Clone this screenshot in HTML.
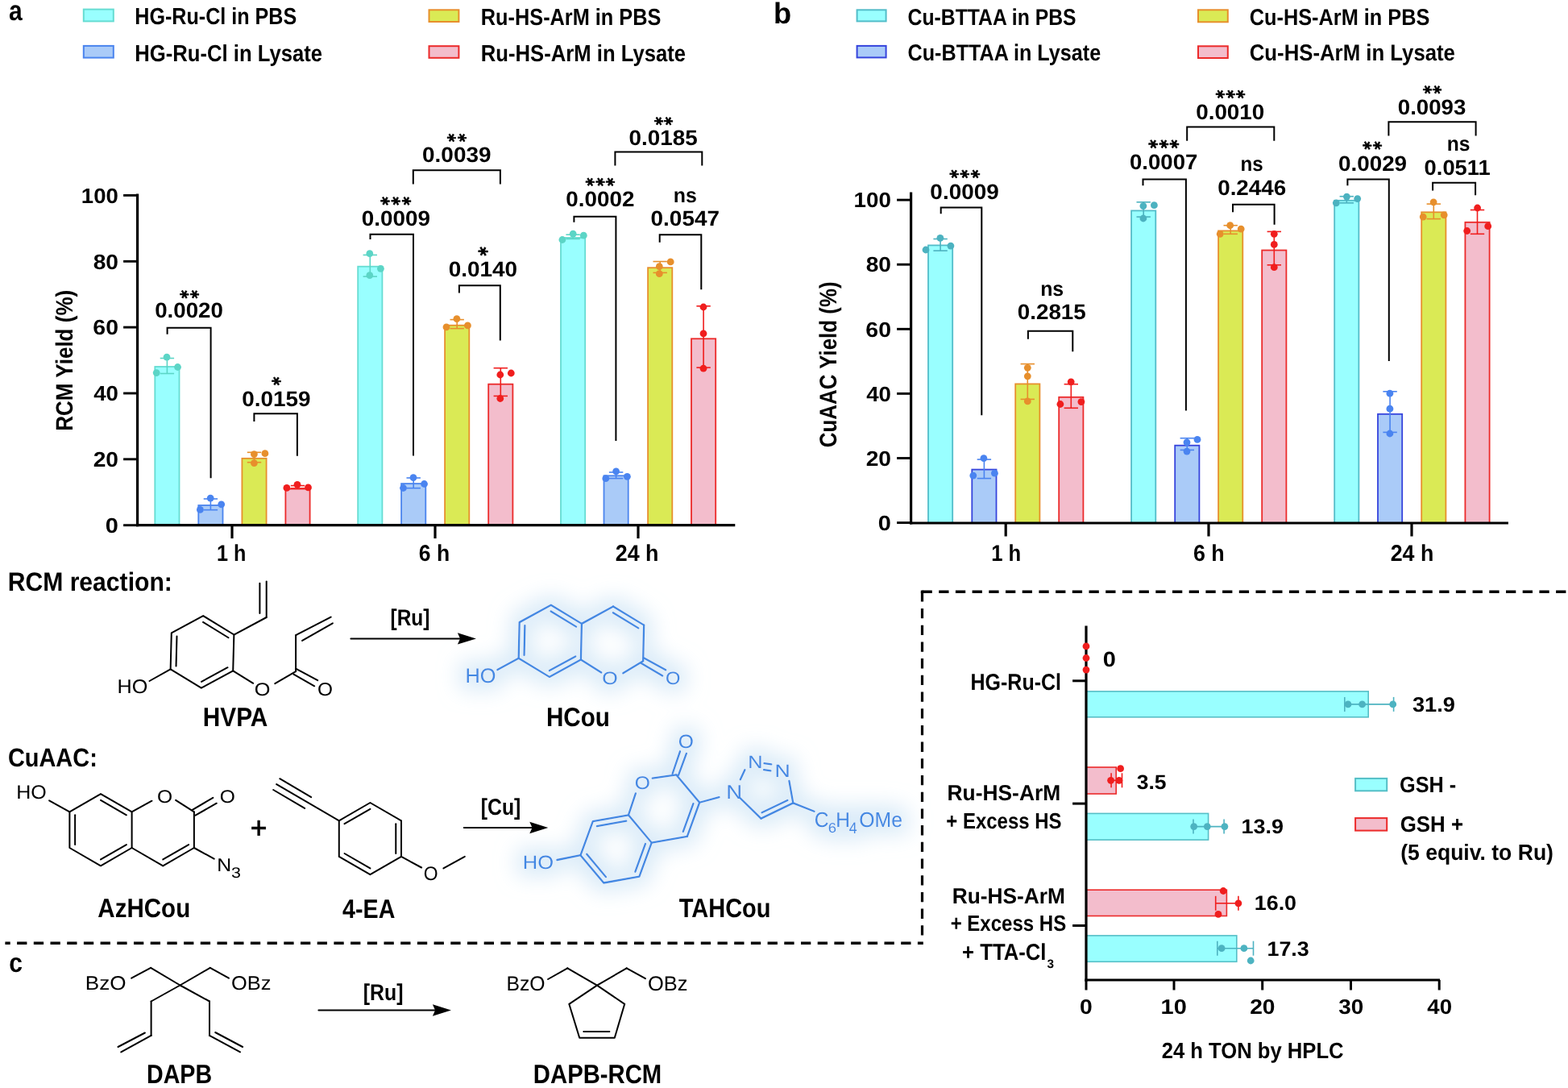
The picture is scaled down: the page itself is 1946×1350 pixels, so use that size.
<!DOCTYPE html><html><head><meta charset="utf-8"><title>Figure</title><style>html,body{margin:0;padding:0;background:#fff;}svg{display:block;}</style></head><body><svg width="1946" height="1350" viewBox="0 0 1946 1350" style="text-rendering:geometricPrecision">
<defs><filter id="glow2" x="-25%" y="-40%" width="150%" height="180%"><feMorphology in="SourceAlpha" operator="dilate" radius="9" result="d"/><feGaussianBlur in="d" stdDeviation="13" result="b"/><feFlood flood-color="#CBE3F5" flood-opacity="0.72"/><feComposite operator="in" in2="b" result="g"/><feMerge><feMergeNode in="g"/><feMergeNode in="SourceGraphic"/></feMerge></filter></defs>
<rect width="1946" height="1350" fill="#fff"/>
<g filter="url(#glow2)"><path d="M683.81 750.71 L721.92 773.88 L720.91 818.47 L681.79 839.89 L643.68 816.72 L644.69 772.13 Z" fill="none" stroke="#4388E3" stroke-width="2.30" stroke-linejoin="round" stroke-linecap="round"/><line x1="683.63" y1="758.51" x2="715.07" y2="777.63" stroke="#4388E3" stroke-width="2.30" stroke-linecap="round"/><line x1="650.53" y1="812.97" x2="651.36" y2="776.18" stroke="#4388E3" stroke-width="2.30" stroke-linecap="round"/><line x1="681.97" y1="832.09" x2="714.24" y2="814.42" stroke="#4388E3" stroke-width="2.30" stroke-linecap="round"/><line x1="721.92" y1="773.88" x2="761.04" y2="752.46" stroke="#4388E3" stroke-width="2.30" stroke-linecap="round"/><line x1="761.04" y1="752.46" x2="799.15" y2="775.63" stroke="#4388E3" stroke-width="2.30" stroke-linecap="round"/><line x1="799.15" y1="775.63" x2="798.14" y2="820.22" stroke="#4388E3" stroke-width="2.30" stroke-linecap="round"/><line x1="760.86" y1="760.27" x2="792.30" y2="779.38" stroke="#4388E3" stroke-width="2.30" stroke-linecap="round"/><line x1="773.30" y1="835.30" x2="798.14" y2="820.22" stroke="#4388E3" stroke-width="2.30" stroke-linecap="round"/><line x1="720.91" y1="818.47" x2="746.30" y2="834.50" stroke="#4388E3" stroke-width="2.30" stroke-linecap="round"/><line x1="798.80" y1="816.20" x2="826.20" y2="831.30" stroke="#4388E3" stroke-width="2.30" stroke-linecap="round"/><line x1="795.90" y1="823.00" x2="822.20" y2="838.50" stroke="#4388E3" stroke-width="2.30" stroke-linecap="round"/><line x1="643.68" y1="816.72" x2="617.40" y2="831.10" stroke="#4388E3" stroke-width="2.30" stroke-linecap="round"/><path d="M779.92 1011.30 L808.72 1045.62 L793.40 1087.72 L749.28 1095.50 L720.48 1061.18 L735.80 1019.08 Z" fill="none" stroke="#4388E3" stroke-width="2.30" stroke-linejoin="round" stroke-linecap="round"/><line x1="740.84" y1="1025.09" x2="777.24" y2="1018.67" stroke="#4388E3" stroke-width="2.30" stroke-linecap="round"/><line x1="751.96" y1="1088.13" x2="728.20" y2="1059.82" stroke="#4388E3" stroke-width="2.30" stroke-linecap="round"/><line x1="801.00" y1="1046.98" x2="788.36" y2="1081.71" stroke="#4388E3" stroke-width="2.30" stroke-linecap="round"/><line x1="779.92" y1="1011.30" x2="788.90" y2="984.40" stroke="#4388E3" stroke-width="2.30" stroke-linecap="round"/><line x1="809.70" y1="965.60" x2="839.36" y2="961.42" stroke="#4388E3" stroke-width="2.30" stroke-linecap="round"/><line x1="839.36" y1="961.42" x2="868.16" y2="995.74" stroke="#4388E3" stroke-width="2.30" stroke-linecap="round"/><line x1="868.16" y1="995.74" x2="852.84" y2="1037.84" stroke="#4388E3" stroke-width="2.30" stroke-linecap="round"/><line x1="852.84" y1="1037.84" x2="808.72" y2="1045.62" stroke="#4388E3" stroke-width="2.30" stroke-linecap="round"/><line x1="860.44" y1="997.10" x2="847.80" y2="1031.84" stroke="#4388E3" stroke-width="2.30" stroke-linecap="round"/><line x1="834.60" y1="960.00" x2="844.00" y2="932.30" stroke="#4388E3" stroke-width="2.30" stroke-linecap="round"/><line x1="842.00" y1="961.80" x2="851.90" y2="934.90" stroke="#4388E3" stroke-width="2.30" stroke-linecap="round"/><line x1="868.16" y1="995.74" x2="892.50" y2="989.10" stroke="#4388E3" stroke-width="2.30" stroke-linecap="round"/><line x1="918.80" y1="967.30" x2="924.40" y2="955.20" stroke="#4388E3" stroke-width="2.30" stroke-linecap="round"/><line x1="948.50" y1="947.20" x2="957.30" y2="948.30" stroke="#4388E3" stroke-width="2.30" stroke-linecap="round"/><line x1="948.10" y1="955.10" x2="956.40" y2="956.40" stroke="#4388E3" stroke-width="2.30" stroke-linecap="round"/><line x1="979.40" y1="969.00" x2="984.30" y2="996.40" stroke="#4388E3" stroke-width="2.30" stroke-linecap="round"/><line x1="984.30" y1="996.40" x2="944.50" y2="1015.60" stroke="#4388E3" stroke-width="2.30" stroke-linecap="round"/><line x1="977.38" y1="992.96" x2="945.54" y2="1008.32" stroke="#4388E3" stroke-width="2.30" stroke-linecap="round"/><line x1="944.50" y1="1015.60" x2="918.60" y2="990.25" stroke="#4388E3" stroke-width="2.30" stroke-linecap="round"/><line x1="984.30" y1="996.40" x2="1010.50" y2="1006.80" stroke="#4388E3" stroke-width="2.30" stroke-linecap="round"/><line x1="720.48" y1="1061.18" x2="691.40" y2="1067.00" stroke="#4388E3" stroke-width="2.30" stroke-linecap="round"/><text x="577.57" y="846.95" font-family='"Liberation Sans", sans-serif' font-weight="normal" font-size="25.35" fill="#4388E3" textLength="37.99" lengthAdjust="spacingAndGlyphs">HO</text><text x="747.35" y="848.58" font-family='"Liberation Sans", sans-serif' font-weight="normal" font-size="22.25" fill="#4388E3" textLength="19.45" lengthAdjust="spacingAndGlyphs">O</text><text x="825.92" y="848.78" font-family='"Liberation Sans", sans-serif' font-weight="normal" font-size="22.25" fill="#4388E3" textLength="18.42" lengthAdjust="spacingAndGlyphs">O</text><text x="648.76" y="1078.36" font-family='"Liberation Sans", sans-serif' font-weight="normal" font-size="23.52" fill="#4388E3" textLength="38.21" lengthAdjust="spacingAndGlyphs">HO</text><text x="787.77" y="978.87" font-family='"Liberation Sans", sans-serif' font-weight="normal" font-size="22.68" fill="#4388E3" textLength="19.11" lengthAdjust="spacingAndGlyphs">O</text><text x="841.77" y="928.06" font-family='"Liberation Sans", sans-serif' font-weight="normal" font-size="23.52" fill="#4388E3" textLength="19.11" lengthAdjust="spacingAndGlyphs">O</text><text x="901.20" y="991.20" font-family='"Liberation Sans", sans-serif' font-weight="normal" font-size="24.20" fill="#4388E3" textLength="19.86" lengthAdjust="spacingAndGlyphs">N</text><text x="928.27" y="952.70" font-family='"Liberation Sans", sans-serif' font-weight="normal" font-size="22.32" fill="#4388E3" textLength="18.31" lengthAdjust="spacingAndGlyphs">N</text><text x="961.57" y="963.70" font-family='"Liberation Sans", sans-serif' font-weight="normal" font-size="22.32" fill="#4388E3" textLength="19.22" lengthAdjust="spacingAndGlyphs">N</text><text x="1010.67" y="1025.94" font-family='"Liberation Sans", sans-serif' font-weight="normal" font-size="26.20" fill="#4388E3" textLength="17.77" lengthAdjust="spacingAndGlyphs">C</text><text x="1027.68" y="1033.43" font-family='"Liberation Sans", sans-serif' font-weight="normal" font-size="17.18" fill="#4388E3" textLength="10.28" lengthAdjust="spacingAndGlyphs">6</text><text x="1037.14" y="1025.90" font-family='"Liberation Sans", sans-serif' font-weight="normal" font-size="25.94" fill="#4388E3" textLength="17.67" lengthAdjust="spacingAndGlyphs">H</text><text x="1053.84" y="1033.60" font-family='"Liberation Sans", sans-serif' font-weight="normal" font-size="19.71" fill="#4388E3" textLength="9.93" lengthAdjust="spacingAndGlyphs">4</text><text x="1066.26" y="1025.90" font-family='"Liberation Sans", sans-serif' font-weight="normal" font-size="26.02" fill="#4388E3" textLength="53.70" lengthAdjust="spacingAndGlyphs">OMe</text></g>
<rect x="192.30" y="455.00" width="30.20" height="196.60" fill="#99FFFF" stroke="#66DCD2" stroke-width="1.80"/>
<rect x="246.30" y="627.00" width="30.20" height="24.60" fill="#AACBF8" stroke="#4A84EE" stroke-width="1.80"/>
<rect x="300.40" y="568.80" width="30.20" height="82.80" fill="#DAEA55" stroke="#E78F2C" stroke-width="1.80"/>
<rect x="354.40" y="606.60" width="30.20" height="45.00" fill="#F3BDCC" stroke="#EC2A2A" stroke-width="1.80"/>
<rect x="444.20" y="330.70" width="30.20" height="320.90" fill="#99FFFF" stroke="#66DCD2" stroke-width="1.80"/>
<rect x="498.10" y="600.10" width="30.20" height="51.50" fill="#AACBF8" stroke="#4A84EE" stroke-width="1.80"/>
<rect x="552.10" y="403.70" width="30.20" height="247.90" fill="#DAEA55" stroke="#E78F2C" stroke-width="1.80"/>
<rect x="606.20" y="476.70" width="30.20" height="174.90" fill="#F3BDCC" stroke="#EC2A2A" stroke-width="1.80"/>
<rect x="696.00" y="295.00" width="30.20" height="356.60" fill="#99FFFF" stroke="#66DCD2" stroke-width="1.80"/>
<rect x="749.50" y="590.30" width="30.20" height="61.30" fill="#AACBF8" stroke="#4A84EE" stroke-width="1.80"/>
<rect x="804.10" y="332.20" width="30.20" height="319.40" fill="#DAEA55" stroke="#E78F2C" stroke-width="1.80"/>
<rect x="858.00" y="420.30" width="30.20" height="231.30" fill="#F3BDCC" stroke="#EC2A2A" stroke-width="1.80"/>
<line x1="207.40" y1="444.50" x2="207.40" y2="463.50" stroke="#5CD5C6" stroke-width="1.60" stroke-linecap="butt"/>
<line x1="198.70" y1="444.50" x2="216.10" y2="444.50" stroke="#5CD5C6" stroke-width="1.60" stroke-linecap="butt"/>
<line x1="198.70" y1="463.50" x2="216.10" y2="463.50" stroke="#5CD5C6" stroke-width="1.60" stroke-linecap="butt"/>
<circle cx="207.00" cy="443.10" r="4.40" fill="#5CD5C6"/>
<circle cx="220.50" cy="455.50" r="4.40" fill="#5CD5C6"/>
<circle cx="194.20" cy="462.60" r="4.40" fill="#5CD5C6"/>
<line x1="261.40" y1="619.00" x2="261.40" y2="632.70" stroke="#4A84F0" stroke-width="1.60" stroke-linecap="butt"/>
<line x1="252.70" y1="619.00" x2="270.10" y2="619.00" stroke="#4A84F0" stroke-width="1.60" stroke-linecap="butt"/>
<line x1="252.70" y1="632.70" x2="270.10" y2="632.70" stroke="#4A84F0" stroke-width="1.60" stroke-linecap="butt"/>
<circle cx="261.20" cy="618.20" r="4.40" fill="#4A84F0"/>
<circle cx="274.70" cy="625.80" r="4.40" fill="#4A84F0"/>
<circle cx="248.40" cy="632.40" r="4.40" fill="#4A84F0"/>
<line x1="315.50" y1="561.30" x2="315.50" y2="573.70" stroke="#E78F2C" stroke-width="1.60" stroke-linecap="butt"/>
<line x1="306.80" y1="561.30" x2="324.20" y2="561.30" stroke="#E78F2C" stroke-width="1.60" stroke-linecap="butt"/>
<line x1="306.80" y1="573.70" x2="324.20" y2="573.70" stroke="#E78F2C" stroke-width="1.60" stroke-linecap="butt"/>
<circle cx="328.90" cy="562.70" r="4.40" fill="#E78F2C"/>
<circle cx="315.40" cy="563.60" r="4.40" fill="#E78F2C"/>
<circle cx="315.40" cy="574.60" r="4.40" fill="#E78F2C"/>
<line x1="369.50" y1="602.60" x2="369.50" y2="606.00" stroke="#F01E1E" stroke-width="1.60" stroke-linecap="butt"/>
<line x1="360.80" y1="602.60" x2="378.20" y2="602.60" stroke="#F01E1E" stroke-width="1.60" stroke-linecap="butt"/>
<line x1="360.80" y1="606.00" x2="378.20" y2="606.00" stroke="#F01E1E" stroke-width="1.60" stroke-linecap="butt"/>
<circle cx="355.90" cy="605.40" r="4.40" fill="#F01E1E"/>
<circle cx="369.00" cy="601.30" r="4.40" fill="#F01E1E"/>
<circle cx="382.50" cy="604.90" r="4.40" fill="#F01E1E"/>
<line x1="459.30" y1="316.40" x2="459.30" y2="343.10" stroke="#5CD5C6" stroke-width="1.60" stroke-linecap="butt"/>
<line x1="450.60" y1="316.40" x2="468.00" y2="316.40" stroke="#5CD5C6" stroke-width="1.60" stroke-linecap="butt"/>
<line x1="450.60" y1="343.10" x2="468.00" y2="343.10" stroke="#5CD5C6" stroke-width="1.60" stroke-linecap="butt"/>
<circle cx="458.80" cy="314.70" r="4.40" fill="#5CD5C6"/>
<circle cx="472.40" cy="333.30" r="4.40" fill="#5CD5C6"/>
<circle cx="458.80" cy="341.70" r="4.40" fill="#5CD5C6"/>
<line x1="513.20" y1="593.00" x2="513.20" y2="605.70" stroke="#4A84F0" stroke-width="1.60" stroke-linecap="butt"/>
<line x1="504.50" y1="593.00" x2="521.90" y2="593.00" stroke="#4A84F0" stroke-width="1.60" stroke-linecap="butt"/>
<line x1="504.50" y1="605.70" x2="521.90" y2="605.70" stroke="#4A84F0" stroke-width="1.60" stroke-linecap="butt"/>
<circle cx="513.00" cy="592.60" r="4.40" fill="#4A84F0"/>
<circle cx="526.50" cy="600.50" r="4.40" fill="#4A84F0"/>
<circle cx="500.50" cy="605.50" r="4.40" fill="#4A84F0"/>
<line x1="567.20" y1="396.60" x2="567.20" y2="407.60" stroke="#E78F2C" stroke-width="1.60" stroke-linecap="butt"/>
<line x1="558.50" y1="396.60" x2="575.90" y2="396.60" stroke="#E78F2C" stroke-width="1.60" stroke-linecap="butt"/>
<line x1="558.50" y1="407.60" x2="575.90" y2="407.60" stroke="#E78F2C" stroke-width="1.60" stroke-linecap="butt"/>
<circle cx="566.90" cy="395.60" r="4.40" fill="#E78F2C"/>
<circle cx="554.00" cy="405.90" r="4.40" fill="#E78F2C"/>
<circle cx="580.40" cy="403.90" r="4.40" fill="#E78F2C"/>
<line x1="621.30" y1="456.70" x2="621.30" y2="491.40" stroke="#F01E1E" stroke-width="1.60" stroke-linecap="butt"/>
<line x1="612.60" y1="456.70" x2="630.00" y2="456.70" stroke="#F01E1E" stroke-width="1.60" stroke-linecap="butt"/>
<line x1="612.60" y1="491.40" x2="630.00" y2="491.40" stroke="#F01E1E" stroke-width="1.60" stroke-linecap="butt"/>
<circle cx="620.80" cy="465.00" r="4.40" fill="#F01E1E"/>
<circle cx="634.30" cy="463.00" r="4.40" fill="#F01E1E"/>
<circle cx="620.80" cy="494.50" r="4.40" fill="#F01E1E"/>
<line x1="711.10" y1="291.20" x2="711.10" y2="296.40" stroke="#5CD5C6" stroke-width="1.60" stroke-linecap="butt"/>
<line x1="702.40" y1="291.20" x2="719.80" y2="291.20" stroke="#5CD5C6" stroke-width="1.60" stroke-linecap="butt"/>
<line x1="702.40" y1="296.40" x2="719.80" y2="296.40" stroke="#5CD5C6" stroke-width="1.60" stroke-linecap="butt"/>
<circle cx="697.90" cy="297.50" r="4.40" fill="#5CD5C6"/>
<circle cx="711.20" cy="290.20" r="4.40" fill="#5CD5C6"/>
<circle cx="724.30" cy="292.20" r="4.40" fill="#5CD5C6"/>
<line x1="764.60" y1="586.00" x2="764.60" y2="593.60" stroke="#4A84F0" stroke-width="1.60" stroke-linecap="butt"/>
<line x1="755.90" y1="586.00" x2="773.30" y2="586.00" stroke="#4A84F0" stroke-width="1.60" stroke-linecap="butt"/>
<line x1="755.90" y1="593.60" x2="773.30" y2="593.60" stroke="#4A84F0" stroke-width="1.60" stroke-linecap="butt"/>
<circle cx="764.60" cy="584.80" r="4.40" fill="#4A84F0"/>
<circle cx="751.80" cy="593.70" r="4.40" fill="#4A84F0"/>
<circle cx="778.40" cy="591.30" r="4.40" fill="#4A84F0"/>
<line x1="819.20" y1="324.50" x2="819.20" y2="338.40" stroke="#E78F2C" stroke-width="1.60" stroke-linecap="butt"/>
<line x1="810.50" y1="324.50" x2="827.90" y2="324.50" stroke="#E78F2C" stroke-width="1.60" stroke-linecap="butt"/>
<line x1="810.50" y1="338.40" x2="827.90" y2="338.40" stroke="#E78F2C" stroke-width="1.60" stroke-linecap="butt"/>
<circle cx="832.20" cy="324.90" r="4.40" fill="#E78F2C"/>
<circle cx="818.30" cy="330.70" r="4.40" fill="#E78F2C"/>
<circle cx="818.30" cy="339.70" r="4.40" fill="#E78F2C"/>
<line x1="873.10" y1="379.80" x2="873.10" y2="456.10" stroke="#F01E1E" stroke-width="1.60" stroke-linecap="butt"/>
<line x1="864.40" y1="379.80" x2="881.80" y2="379.80" stroke="#F01E1E" stroke-width="1.60" stroke-linecap="butt"/>
<line x1="864.40" y1="456.10" x2="881.80" y2="456.10" stroke="#F01E1E" stroke-width="1.60" stroke-linecap="butt"/>
<circle cx="873.00" cy="381.00" r="4.40" fill="#F01E1E"/>
<circle cx="873.00" cy="413.80" r="4.40" fill="#F01E1E"/>
<circle cx="873.00" cy="457.20" r="4.40" fill="#F01E1E"/>
<path d="M207.60 414.80 L207.60 406.70 L261.60 406.70 L261.60 593.30" fill="none" stroke="#000" stroke-width="2.00" stroke-linejoin="miter" stroke-linecap="butt"/>
<path d="M315.40 523.00 L315.40 513.30 L368.90 513.30 L368.90 565.70" fill="none" stroke="#000" stroke-width="2.00" stroke-linejoin="miter" stroke-linecap="butt"/>
<path d="M459.50 296.90 L459.50 290.70 L513.00 290.70 L513.00 565.60" fill="none" stroke="#000" stroke-width="2.00" stroke-linejoin="miter" stroke-linecap="butt"/>
<path d="M512.80 228.40 L512.80 211.20 L620.90 211.20 L620.90 228.40" fill="none" stroke="#000" stroke-width="2.00" stroke-linejoin="miter" stroke-linecap="butt"/>
<path d="M569.90 363.60 L569.90 354.30 L620.80 354.30 L620.80 422.50" fill="none" stroke="#000" stroke-width="2.00" stroke-linejoin="miter" stroke-linecap="butt"/>
<path d="M712.40 275.80 L712.40 268.70 L764.40 268.70 L764.40 547.00" fill="none" stroke="#000" stroke-width="2.00" stroke-linejoin="miter" stroke-linecap="butt"/>
<path d="M763.40 205.50 L763.40 188.50 L871.30 188.50 L871.30 205.50" fill="none" stroke="#000" stroke-width="2.00" stroke-linejoin="miter" stroke-linecap="butt"/>
<path d="M818.70 300.80 L818.70 291.20 L870.30 291.20 L870.30 359.20" fill="none" stroke="#000" stroke-width="2.00" stroke-linejoin="miter" stroke-linecap="butt"/>
<line x1="170.60" y1="240.60" x2="170.60" y2="653.20" stroke="#000" stroke-width="3.20" stroke-linecap="butt"/>
<line x1="169.00" y1="651.60" x2="912.30" y2="651.60" stroke="#000" stroke-width="3.20" stroke-linecap="butt"/>
<line x1="153.10" y1="242.40" x2="170.60" y2="242.40" stroke="#000" stroke-width="2.90" stroke-linecap="butt"/>
<line x1="153.10" y1="324.30" x2="170.60" y2="324.30" stroke="#000" stroke-width="2.90" stroke-linecap="butt"/>
<line x1="153.10" y1="406.10" x2="170.60" y2="406.10" stroke="#000" stroke-width="2.90" stroke-linecap="butt"/>
<line x1="153.10" y1="488.00" x2="170.60" y2="488.00" stroke="#000" stroke-width="2.90" stroke-linecap="butt"/>
<line x1="153.10" y1="569.80" x2="170.60" y2="569.80" stroke="#000" stroke-width="2.90" stroke-linecap="butt"/>
<line x1="153.10" y1="651.70" x2="170.60" y2="651.70" stroke="#000" stroke-width="2.90" stroke-linecap="butt"/>
<line x1="288.00" y1="651.60" x2="288.00" y2="668.10" stroke="#000" stroke-width="3.20" stroke-linecap="butt"/>
<line x1="540.00" y1="651.60" x2="540.00" y2="668.10" stroke="#000" stroke-width="3.20" stroke-linecap="butt"/>
<line x1="792.00" y1="651.60" x2="792.00" y2="668.10" stroke="#000" stroke-width="3.20" stroke-linecap="butt"/>
<rect x="1152.00" y="304.40" width="30.20" height="344.60" fill="#99FFFF" stroke="#53BDC9" stroke-width="1.80"/>
<rect x="1206.30" y="582.60" width="30.20" height="66.40" fill="#AACBF8" stroke="#3644DC" stroke-width="1.80"/>
<rect x="1260.20" y="476.40" width="30.20" height="172.60" fill="#DAEA55" stroke="#E78F2C" stroke-width="1.80"/>
<rect x="1314.20" y="492.80" width="30.20" height="156.20" fill="#F3BDCC" stroke="#EC2A2A" stroke-width="1.80"/>
<rect x="1404.10" y="261.40" width="30.20" height="387.60" fill="#99FFFF" stroke="#53BDC9" stroke-width="1.80"/>
<rect x="1458.20" y="552.70" width="30.20" height="96.30" fill="#AACBF8" stroke="#3644DC" stroke-width="1.80"/>
<rect x="1512.10" y="286.40" width="30.20" height="362.60" fill="#DAEA55" stroke="#E78F2C" stroke-width="1.80"/>
<rect x="1566.20" y="310.50" width="30.20" height="338.50" fill="#F3BDCC" stroke="#EC2A2A" stroke-width="1.80"/>
<rect x="1656.20" y="248.80" width="30.20" height="400.20" fill="#99FFFF" stroke="#53BDC9" stroke-width="1.80"/>
<rect x="1710.00" y="513.80" width="30.20" height="135.20" fill="#AACBF8" stroke="#3644DC" stroke-width="1.80"/>
<rect x="1764.20" y="263.30" width="30.20" height="385.70" fill="#DAEA55" stroke="#E78F2C" stroke-width="1.80"/>
<rect x="1818.40" y="275.80" width="30.20" height="373.20" fill="#F3BDCC" stroke="#EC2A2A" stroke-width="1.80"/>
<line x1="1167.10" y1="296.50" x2="1167.10" y2="311.10" stroke="#4CB2C0" stroke-width="1.60" stroke-linecap="butt"/>
<line x1="1158.40" y1="296.50" x2="1175.80" y2="296.50" stroke="#4CB2C0" stroke-width="1.60" stroke-linecap="butt"/>
<line x1="1158.40" y1="311.10" x2="1175.80" y2="311.10" stroke="#4CB2C0" stroke-width="1.60" stroke-linecap="butt"/>
<circle cx="1166.90" cy="295.30" r="4.40" fill="#4CB2C0"/>
<circle cx="1179.90" cy="305.10" r="4.40" fill="#4CB2C0"/>
<circle cx="1149.00" cy="310.00" r="4.40" fill="#4CB2C0"/>
<line x1="1221.40" y1="570.10" x2="1221.40" y2="593.60" stroke="#4A84F0" stroke-width="1.60" stroke-linecap="butt"/>
<line x1="1212.70" y1="570.10" x2="1230.10" y2="570.10" stroke="#4A84F0" stroke-width="1.60" stroke-linecap="butt"/>
<line x1="1212.70" y1="593.60" x2="1230.10" y2="593.60" stroke="#4A84F0" stroke-width="1.60" stroke-linecap="butt"/>
<circle cx="1220.90" cy="568.60" r="4.40" fill="#4A84F0"/>
<circle cx="1234.40" cy="587.20" r="4.40" fill="#4A84F0"/>
<circle cx="1207.80" cy="590.10" r="4.40" fill="#4A84F0"/>
<line x1="1275.30" y1="451.60" x2="1275.30" y2="495.40" stroke="#E78F2C" stroke-width="1.60" stroke-linecap="butt"/>
<line x1="1266.60" y1="451.60" x2="1284.00" y2="451.60" stroke="#E78F2C" stroke-width="1.60" stroke-linecap="butt"/>
<line x1="1266.60" y1="495.40" x2="1284.00" y2="495.40" stroke="#E78F2C" stroke-width="1.60" stroke-linecap="butt"/>
<circle cx="1275.30" cy="456.30" r="4.40" fill="#E78F2C"/>
<circle cx="1275.30" cy="466.80" r="4.40" fill="#E78F2C"/>
<circle cx="1275.30" cy="497.90" r="4.40" fill="#E78F2C"/>
<line x1="1329.30" y1="476.70" x2="1329.30" y2="506.30" stroke="#F01E1E" stroke-width="1.60" stroke-linecap="butt"/>
<line x1="1320.60" y1="476.70" x2="1338.00" y2="476.70" stroke="#F01E1E" stroke-width="1.60" stroke-linecap="butt"/>
<line x1="1320.60" y1="506.30" x2="1338.00" y2="506.30" stroke="#F01E1E" stroke-width="1.60" stroke-linecap="butt"/>
<circle cx="1329.20" cy="473.80" r="4.40" fill="#F01E1E"/>
<circle cx="1315.90" cy="501.50" r="4.40" fill="#F01E1E"/>
<circle cx="1341.90" cy="498.60" r="4.40" fill="#F01E1E"/>
<line x1="1419.20" y1="250.80" x2="1419.20" y2="269.10" stroke="#4CB2C0" stroke-width="1.60" stroke-linecap="butt"/>
<line x1="1410.50" y1="250.80" x2="1427.90" y2="250.80" stroke="#4CB2C0" stroke-width="1.60" stroke-linecap="butt"/>
<line x1="1410.50" y1="269.10" x2="1427.90" y2="269.10" stroke="#4CB2C0" stroke-width="1.60" stroke-linecap="butt"/>
<circle cx="1418.90" cy="255.60" r="4.40" fill="#4CB2C0"/>
<circle cx="1432.40" cy="254.70" r="4.40" fill="#4CB2C0"/>
<circle cx="1418.90" cy="271.00" r="4.40" fill="#4CB2C0"/>
<line x1="1473.30" y1="543.70" x2="1473.30" y2="558.40" stroke="#4A84F0" stroke-width="1.60" stroke-linecap="butt"/>
<line x1="1464.60" y1="543.70" x2="1482.00" y2="543.70" stroke="#4A84F0" stroke-width="1.60" stroke-linecap="butt"/>
<line x1="1464.60" y1="558.40" x2="1482.00" y2="558.40" stroke="#4A84F0" stroke-width="1.60" stroke-linecap="butt"/>
<circle cx="1486.00" cy="545.40" r="4.40" fill="#4A84F0"/>
<circle cx="1473.00" cy="548.90" r="4.40" fill="#4A84F0"/>
<circle cx="1473.00" cy="560.10" r="4.40" fill="#4A84F0"/>
<line x1="1527.20" y1="279.70" x2="1527.20" y2="290.30" stroke="#E78F2C" stroke-width="1.60" stroke-linecap="butt"/>
<line x1="1518.50" y1="279.70" x2="1535.90" y2="279.70" stroke="#E78F2C" stroke-width="1.60" stroke-linecap="butt"/>
<line x1="1518.50" y1="290.30" x2="1535.90" y2="290.30" stroke="#E78F2C" stroke-width="1.60" stroke-linecap="butt"/>
<circle cx="1526.70" cy="279.70" r="4.40" fill="#E78F2C"/>
<circle cx="1540.20" cy="284.10" r="4.40" fill="#E78F2C"/>
<circle cx="1514.20" cy="290.30" r="4.40" fill="#E78F2C"/>
<line x1="1581.30" y1="287.40" x2="1581.30" y2="328.80" stroke="#F01E1E" stroke-width="1.60" stroke-linecap="butt"/>
<line x1="1572.60" y1="287.40" x2="1590.00" y2="287.40" stroke="#F01E1E" stroke-width="1.60" stroke-linecap="butt"/>
<line x1="1572.60" y1="328.80" x2="1590.00" y2="328.80" stroke="#F01E1E" stroke-width="1.60" stroke-linecap="butt"/>
<circle cx="1581.30" cy="290.30" r="4.40" fill="#F01E1E"/>
<circle cx="1581.30" cy="303.40" r="4.40" fill="#F01E1E"/>
<circle cx="1581.30" cy="331.70" r="4.40" fill="#F01E1E"/>
<line x1="1671.30" y1="243.70" x2="1671.30" y2="251.80" stroke="#4CB2C0" stroke-width="1.60" stroke-linecap="butt"/>
<line x1="1662.60" y1="243.70" x2="1680.00" y2="243.70" stroke="#4CB2C0" stroke-width="1.60" stroke-linecap="butt"/>
<line x1="1662.60" y1="251.80" x2="1680.00" y2="251.80" stroke="#4CB2C0" stroke-width="1.60" stroke-linecap="butt"/>
<circle cx="1671.40" cy="244.10" r="4.40" fill="#4CB2C0"/>
<circle cx="1684.70" cy="246.60" r="4.40" fill="#4CB2C0"/>
<circle cx="1658.30" cy="251.80" r="4.40" fill="#4CB2C0"/>
<line x1="1725.10" y1="485.80" x2="1725.10" y2="536.40" stroke="#4A84F0" stroke-width="1.60" stroke-linecap="butt"/>
<line x1="1716.40" y1="485.80" x2="1733.80" y2="485.80" stroke="#4A84F0" stroke-width="1.60" stroke-linecap="butt"/>
<line x1="1716.40" y1="536.40" x2="1733.80" y2="536.40" stroke="#4A84F0" stroke-width="1.60" stroke-linecap="butt"/>
<circle cx="1724.90" cy="488.20" r="4.40" fill="#4A84F0"/>
<circle cx="1724.90" cy="507.20" r="4.40" fill="#4A84F0"/>
<circle cx="1724.90" cy="538.00" r="4.40" fill="#4A84F0"/>
<line x1="1779.30" y1="253.10" x2="1779.30" y2="271.60" stroke="#E78F2C" stroke-width="1.60" stroke-linecap="butt"/>
<line x1="1770.60" y1="253.10" x2="1788.00" y2="253.10" stroke="#E78F2C" stroke-width="1.60" stroke-linecap="butt"/>
<line x1="1770.60" y1="271.60" x2="1788.00" y2="271.60" stroke="#E78F2C" stroke-width="1.60" stroke-linecap="butt"/>
<circle cx="1779.10" cy="250.80" r="4.40" fill="#E78F2C"/>
<circle cx="1792.20" cy="266.80" r="4.40" fill="#E78F2C"/>
<circle cx="1766.20" cy="269.10" r="4.40" fill="#E78F2C"/>
<line x1="1833.50" y1="260.50" x2="1833.50" y2="290.30" stroke="#F01E1E" stroke-width="1.60" stroke-linecap="butt"/>
<line x1="1824.80" y1="260.50" x2="1842.20" y2="260.50" stroke="#F01E1E" stroke-width="1.60" stroke-linecap="butt"/>
<line x1="1824.80" y1="290.30" x2="1842.20" y2="290.30" stroke="#F01E1E" stroke-width="1.60" stroke-linecap="butt"/>
<circle cx="1833.60" cy="258.00" r="4.40" fill="#F01E1E"/>
<circle cx="1846.70" cy="280.70" r="4.40" fill="#F01E1E"/>
<circle cx="1820.70" cy="286.50" r="4.40" fill="#F01E1E"/>
<path d="M1167.70 265.20 L1167.70 257.40 L1218.30 257.40 L1218.30 515.20" fill="none" stroke="#000" stroke-width="2.00" stroke-linejoin="miter" stroke-linecap="butt"/>
<path d="M1275.90 420.80 L1275.90 410.80 L1331.30 410.80 L1331.30 436.20" fill="none" stroke="#000" stroke-width="2.00" stroke-linejoin="miter" stroke-linecap="butt"/>
<path d="M1418.50 230.20 L1418.50 222.50 L1471.90 222.50 L1471.90 509.60" fill="none" stroke="#000" stroke-width="2.00" stroke-linejoin="miter" stroke-linecap="butt"/>
<path d="M1473.20 174.70 L1473.20 157.40 L1581.30 157.40 L1581.30 174.70" fill="none" stroke="#000" stroke-width="2.00" stroke-linejoin="miter" stroke-linecap="butt"/>
<path d="M1530.00 263.30 L1530.00 253.70 L1581.60 253.70 L1581.60 278.80" fill="none" stroke="#000" stroke-width="2.00" stroke-linejoin="miter" stroke-linecap="butt"/>
<path d="M1672.40 230.20 L1672.40 222.50 L1723.80 222.50 L1723.80 447.90" fill="none" stroke="#000" stroke-width="2.00" stroke-linejoin="miter" stroke-linecap="butt"/>
<path d="M1723.40 168.60 L1723.40 151.20 L1831.60 151.20 L1831.60 168.60" fill="none" stroke="#000" stroke-width="2.00" stroke-linejoin="miter" stroke-linecap="butt"/>
<path d="M1778.10 236.40 L1778.10 226.70 L1831.10 226.70 L1831.10 242.20" fill="none" stroke="#000" stroke-width="2.00" stroke-linejoin="miter" stroke-linecap="butt"/>
<line x1="1130.60" y1="238.50" x2="1130.60" y2="650.60" stroke="#000" stroke-width="3.20" stroke-linecap="butt"/>
<line x1="1129.00" y1="649.00" x2="1871.90" y2="649.00" stroke="#000" stroke-width="3.20" stroke-linecap="butt"/>
<line x1="1113.10" y1="248.10" x2="1130.60" y2="248.10" stroke="#000" stroke-width="2.90" stroke-linecap="butt"/>
<line x1="1113.10" y1="328.20" x2="1130.60" y2="328.20" stroke="#000" stroke-width="2.90" stroke-linecap="butt"/>
<line x1="1113.10" y1="408.30" x2="1130.60" y2="408.30" stroke="#000" stroke-width="2.90" stroke-linecap="butt"/>
<line x1="1113.10" y1="488.40" x2="1130.60" y2="488.40" stroke="#000" stroke-width="2.90" stroke-linecap="butt"/>
<line x1="1113.10" y1="568.50" x2="1130.60" y2="568.50" stroke="#000" stroke-width="2.90" stroke-linecap="butt"/>
<line x1="1113.10" y1="648.60" x2="1130.60" y2="648.60" stroke="#000" stroke-width="2.90" stroke-linecap="butt"/>
<line x1="1248.20" y1="649.00" x2="1248.20" y2="665.50" stroke="#000" stroke-width="3.20" stroke-linecap="butt"/>
<line x1="1500.00" y1="649.00" x2="1500.00" y2="665.50" stroke="#000" stroke-width="3.20" stroke-linecap="butt"/>
<line x1="1752.00" y1="649.00" x2="1752.00" y2="665.50" stroke="#000" stroke-width="3.20" stroke-linecap="butt"/>
<rect x="103.80" y="11.60" width="37.00" height="14.80" fill="#99FFFF" stroke="#66DCD2" stroke-width="2.00"/>
<rect x="103.80" y="56.90" width="37.00" height="14.70" fill="#AACBF8" stroke="#4A84EE" stroke-width="2.00"/>
<rect x="532.50" y="12.30" width="36.90" height="14.70" fill="#DAEA55" stroke="#E78F2C" stroke-width="2.00"/>
<rect x="532.50" y="57.20" width="36.90" height="14.60" fill="#F3BDCC" stroke="#EC2A2A" stroke-width="2.00"/>
<rect x="1063.60" y="12.30" width="36.00" height="14.10" fill="#99FFFF" stroke="#53BDC9" stroke-width="2.00"/>
<rect x="1063.60" y="56.90" width="36.00" height="14.50" fill="#AACBF8" stroke="#3644DC" stroke-width="2.00"/>
<rect x="1487.00" y="12.30" width="36.80" height="15.00" fill="#DAEA55" stroke="#E78F2C" stroke-width="2.00"/>
<rect x="1487.00" y="57.30" width="36.80" height="14.70" fill="#F3BDCC" stroke="#EC2A2A" stroke-width="2.00"/>
<rect x="1348.00" y="857.90" width="350.20" height="31.90" fill="#99FFFF" stroke="#55BEC6" stroke-width="1.60"/>
<rect x="1348.00" y="952.00" width="37.20" height="33.00" fill="#F3BDCC" stroke="#EC2A2A" stroke-width="1.60"/>
<rect x="1348.00" y="1009.40" width="151.60" height="32.70" fill="#99FFFF" stroke="#55BEC6" stroke-width="1.60"/>
<rect x="1348.00" y="1104.20" width="174.40" height="32.30" fill="#F3BDCC" stroke="#EC2A2A" stroke-width="1.60"/>
<rect x="1348.00" y="1160.90" width="186.80" height="32.40" fill="#99FFFF" stroke="#55BEC6" stroke-width="1.60"/>
<line x1="1668.80" y1="873.90" x2="1729.60" y2="873.90" stroke="#4DB3C1" stroke-width="1.60" stroke-linecap="butt"/>
<line x1="1668.80" y1="864.90" x2="1668.80" y2="882.90" stroke="#4DB3C1" stroke-width="1.60" stroke-linecap="butt"/>
<line x1="1729.60" y1="864.90" x2="1729.60" y2="882.90" stroke="#4DB3C1" stroke-width="1.60" stroke-linecap="butt"/>
<circle cx="1673.00" cy="873.90" r="4.40" fill="#4DB3C1"/>
<circle cx="1690.60" cy="873.90" r="4.40" fill="#4DB3C1"/>
<circle cx="1728.70" cy="873.90" r="4.40" fill="#4DB3C1"/>
<line x1="1379.10" y1="968.30" x2="1392.50" y2="968.30" stroke="#F01E1E" stroke-width="1.60" stroke-linecap="butt"/>
<line x1="1379.10" y1="959.30" x2="1379.10" y2="977.30" stroke="#F01E1E" stroke-width="1.60" stroke-linecap="butt"/>
<line x1="1392.50" y1="959.30" x2="1392.50" y2="977.30" stroke="#F01E1E" stroke-width="1.60" stroke-linecap="butt"/>
<circle cx="1378.60" cy="968.30" r="4.40" fill="#F01E1E"/>
<circle cx="1388.90" cy="968.30" r="4.40" fill="#F01E1E"/>
<circle cx="1390.60" cy="953.70" r="4.40" fill="#F01E1E"/>
<line x1="1481.00" y1="1025.60" x2="1519.10" y2="1025.60" stroke="#4DB3C1" stroke-width="1.60" stroke-linecap="butt"/>
<line x1="1481.00" y1="1016.60" x2="1481.00" y2="1034.60" stroke="#4DB3C1" stroke-width="1.60" stroke-linecap="butt"/>
<line x1="1519.10" y1="1016.60" x2="1519.10" y2="1034.60" stroke="#4DB3C1" stroke-width="1.60" stroke-linecap="butt"/>
<circle cx="1481.70" cy="1025.60" r="4.40" fill="#4DB3C1"/>
<circle cx="1498.30" cy="1025.60" r="4.40" fill="#4DB3C1"/>
<circle cx="1519.90" cy="1025.60" r="4.40" fill="#4DB3C1"/>
<line x1="1508.70" y1="1120.80" x2="1536.90" y2="1120.80" stroke="#F01E1E" stroke-width="1.60" stroke-linecap="butt"/>
<line x1="1508.70" y1="1111.80" x2="1508.70" y2="1129.80" stroke="#F01E1E" stroke-width="1.60" stroke-linecap="butt"/>
<line x1="1536.90" y1="1111.80" x2="1536.90" y2="1129.80" stroke="#F01E1E" stroke-width="1.60" stroke-linecap="butt"/>
<circle cx="1518.20" cy="1105.50" r="4.40" fill="#F01E1E"/>
<circle cx="1536.90" cy="1120.80" r="4.40" fill="#F01E1E"/>
<circle cx="1512.00" cy="1134.40" r="4.40" fill="#F01E1E"/>
<line x1="1510.80" y1="1176.70" x2="1555.50" y2="1176.70" stroke="#4DB3C1" stroke-width="1.60" stroke-linecap="butt"/>
<line x1="1510.80" y1="1167.70" x2="1510.80" y2="1185.70" stroke="#4DB3C1" stroke-width="1.60" stroke-linecap="butt"/>
<line x1="1555.50" y1="1167.70" x2="1555.50" y2="1185.70" stroke="#4DB3C1" stroke-width="1.60" stroke-linecap="butt"/>
<circle cx="1516.10" cy="1176.70" r="4.40" fill="#4DB3C1"/>
<circle cx="1543.90" cy="1176.70" r="4.40" fill="#4DB3C1"/>
<circle cx="1552.20" cy="1192.00" r="4.40" fill="#4DB3C1"/>
<line x1="1348.00" y1="776.60" x2="1348.00" y2="1217.60" stroke="#000" stroke-width="3.20" stroke-linecap="butt"/>
<line x1="1346.40" y1="1216.00" x2="1787.00" y2="1216.00" stroke="#000" stroke-width="3.20" stroke-linecap="butt"/>
<line x1="1331.10" y1="844.80" x2="1348.00" y2="844.80" stroke="#000" stroke-width="3.00" stroke-linecap="butt"/>
<line x1="1331.10" y1="997.10" x2="1348.00" y2="997.10" stroke="#000" stroke-width="3.00" stroke-linecap="butt"/>
<line x1="1331.10" y1="1148.50" x2="1348.00" y2="1148.50" stroke="#000" stroke-width="3.00" stroke-linecap="butt"/>
<line x1="1348.00" y1="1216.00" x2="1348.00" y2="1228.50" stroke="#000" stroke-width="3.00" stroke-linecap="butt"/>
<line x1="1457.00" y1="1216.00" x2="1457.00" y2="1228.50" stroke="#000" stroke-width="3.00" stroke-linecap="butt"/>
<line x1="1566.70" y1="1216.00" x2="1566.70" y2="1228.50" stroke="#000" stroke-width="3.00" stroke-linecap="butt"/>
<line x1="1676.50" y1="1216.00" x2="1676.50" y2="1228.50" stroke="#000" stroke-width="3.00" stroke-linecap="butt"/>
<line x1="1786.20" y1="1216.00" x2="1786.20" y2="1228.50" stroke="#000" stroke-width="3.00" stroke-linecap="butt"/>
<circle cx="1348.00" cy="801.90" r="4.40" fill="#F01E1E"/>
<circle cx="1348.00" cy="816.50" r="4.40" fill="#F01E1E"/>
<circle cx="1348.00" cy="831.10" r="4.40" fill="#F01E1E"/>
<rect x="1682.10" y="965.90" width="39.10" height="15.40" fill="#99FFFF" stroke="#55BEC6" stroke-width="2.00"/>
<rect x="1682.10" y="1015.10" width="39.10" height="15.50" fill="#F3BDCC" stroke="#EC2A2A" stroke-width="2.00"/>
<line x1="6.4" y1="1170.3" x2="1145.8" y2="1170.3" stroke="#000" stroke-width="3.4" stroke-dasharray="12.3 8.4" stroke-dashoffset="6.00"/>
<line x1="1144.5" y1="734.3" x2="1144.5" y2="1163.2" stroke="#000" stroke-width="3.2" stroke-dasharray="12.3 8.4"/>
<line x1="1144.5" y1="734.3" x2="1946" y2="734.3" stroke="#000" stroke-width="3.4" stroke-dasharray="12.3 8.4"/>
<rect x="1142.8" y="732.6" width="3.4" height="3.4" fill="#000"/>
<path d="M252.17 764.12 L290.37 787.52 L289.20 832.31 L249.83 853.68 L211.63 830.28 L212.80 785.49 Z" fill="none" stroke="#000" stroke-width="2.00" stroke-linejoin="round" stroke-linecap="round"/>
<line x1="251.97" y1="771.95" x2="283.48" y2="791.26" stroke="#000" stroke-width="2.00" stroke-linecap="round"/>
<line x1="282.51" y1="828.21" x2="250.03" y2="845.85" stroke="#000" stroke-width="2.00" stroke-linecap="round"/>
<line x1="218.52" y1="826.54" x2="219.49" y2="789.59" stroke="#000" stroke-width="2.00" stroke-linecap="round"/>
<line x1="290.37" y1="787.52" x2="330.70" y2="766.00" stroke="#000" stroke-width="2.00" stroke-linecap="round"/>
<line x1="330.70" y1="766.00" x2="330.70" y2="721.50" stroke="#000" stroke-width="2.00" stroke-linecap="round"/>
<line x1="322.40" y1="761.00" x2="322.40" y2="723.80" stroke="#000" stroke-width="2.00" stroke-linecap="round"/>
<line x1="289.20" y1="832.31" x2="314.20" y2="847.80" stroke="#000" stroke-width="2.00" stroke-linecap="round"/>
<line x1="341.30" y1="848.20" x2="367.10" y2="833.10" stroke="#000" stroke-width="2.00" stroke-linecap="round"/>
<line x1="367.10" y1="833.10" x2="367.10" y2="788.20" stroke="#000" stroke-width="2.00" stroke-linecap="round"/>
<line x1="367.10" y1="829.60" x2="394.20" y2="844.20" stroke="#000" stroke-width="2.00" stroke-linecap="round"/>
<line x1="364.40" y1="836.70" x2="390.20" y2="851.30" stroke="#000" stroke-width="2.00" stroke-linecap="round"/>
<line x1="367.10" y1="788.20" x2="410.70" y2="765.60" stroke="#000" stroke-width="2.00" stroke-linecap="round"/>
<line x1="375.10" y1="794.90" x2="412.90" y2="773.30" stroke="#000" stroke-width="2.00" stroke-linecap="round"/>
<line x1="211.63" y1="830.28" x2="185.50" y2="845.00" stroke="#000" stroke-width="2.00" stroke-linecap="round"/>
<line x1="435.40" y1="792.40" x2="574.90" y2="792.40" stroke="#000" stroke-width="2.00" stroke-linecap="round"/>
<path d="M590.90 792.40 L567.90 785.20 L571.10 792.40 L567.90 799.60 Z" fill="#000"/>
<line x1="575.80" y1="1027.00" x2="664.30" y2="1027.00" stroke="#000" stroke-width="2.00" stroke-linecap="round"/>
<path d="M680.30 1027.00 L657.30 1019.80 L660.50 1027.00 L657.30 1034.20 Z" fill="#000"/>
<line x1="395.40" y1="1253.50" x2="543.90" y2="1253.50" stroke="#000" stroke-width="2.00" stroke-linecap="round"/>
<path d="M559.90 1253.50 L536.90 1246.30 L540.10 1253.50 L536.90 1260.70 Z" fill="#000"/>
<path d="M125.00 985.10 L163.62 1007.40 L163.62 1052.00 L125.00 1074.30 L86.38 1052.00 L86.38 1007.40 Z" fill="none" stroke="#000" stroke-width="2.00" stroke-linejoin="round" stroke-linecap="round"/>
<line x1="125.00" y1="992.90" x2="156.87" y2="1011.30" stroke="#000" stroke-width="2.00" stroke-linecap="round"/>
<line x1="156.87" y1="1048.10" x2="125.00" y2="1066.49" stroke="#000" stroke-width="2.00" stroke-linecap="round"/>
<line x1="93.13" y1="1048.10" x2="93.13" y2="1011.30" stroke="#000" stroke-width="2.00" stroke-linecap="round"/>
<line x1="163.62" y1="1007.40" x2="188.50" y2="993.70" stroke="#000" stroke-width="2.00" stroke-linecap="round"/>
<line x1="218.10" y1="992.80" x2="240.87" y2="1007.40" stroke="#000" stroke-width="2.00" stroke-linecap="round"/>
<line x1="240.87" y1="1007.40" x2="240.87" y2="1052.00" stroke="#000" stroke-width="2.00" stroke-linecap="round"/>
<line x1="240.87" y1="1052.00" x2="202.25" y2="1074.30" stroke="#000" stroke-width="2.00" stroke-linecap="round"/>
<line x1="202.25" y1="1074.30" x2="163.62" y2="1052.00" stroke="#000" stroke-width="2.00" stroke-linecap="round"/>
<line x1="234.11" y1="1048.10" x2="202.25" y2="1066.49" stroke="#000" stroke-width="2.00" stroke-linecap="round"/>
<line x1="238.80" y1="1004.90" x2="264.30" y2="989.80" stroke="#000" stroke-width="2.00" stroke-linecap="round"/>
<line x1="242.60" y1="1011.60" x2="268.80" y2="996.70" stroke="#000" stroke-width="2.00" stroke-linecap="round"/>
<line x1="240.87" y1="1052.00" x2="265.70" y2="1065.60" stroke="#000" stroke-width="2.00" stroke-linecap="round"/>
<line x1="86.38" y1="1007.40" x2="61.10" y2="993.30" stroke="#000" stroke-width="2.00" stroke-linecap="round"/>
<path d="M459.40 996.00 L498.02 1018.30 L498.02 1062.90 L459.40 1085.20 L420.78 1062.90 L420.78 1018.30 Z" fill="none" stroke="#000" stroke-width="2.00" stroke-linejoin="round" stroke-linecap="round"/>
<line x1="427.53" y1="1022.20" x2="459.40" y2="1003.80" stroke="#000" stroke-width="2.00" stroke-linecap="round"/>
<line x1="491.27" y1="1022.20" x2="491.27" y2="1059.00" stroke="#000" stroke-width="2.00" stroke-linecap="round"/>
<line x1="459.40" y1="1077.39" x2="427.53" y2="1059.00" stroke="#000" stroke-width="2.00" stroke-linecap="round"/>
<line x1="420.78" y1="1018.30" x2="343.20" y2="973.10" stroke="#000" stroke-width="2.00" stroke-linecap="round"/>
<line x1="339.15" y1="980.00" x2="378.10" y2="1002.90" stroke="#000" stroke-width="2.00" stroke-linecap="round"/>
<line x1="347.25" y1="966.20" x2="386.21" y2="989.10" stroke="#000" stroke-width="2.00" stroke-linecap="round"/>
<line x1="498.02" y1="1062.90" x2="523.10" y2="1076.50" stroke="#000" stroke-width="2.00" stroke-linecap="round"/>
<line x1="550.40" y1="1077.40" x2="576.80" y2="1062.80" stroke="#000" stroke-width="2.00" stroke-linecap="round"/>
<line x1="223.50" y1="1222.50" x2="187.10" y2="1200.90" stroke="#000" stroke-width="2.00" stroke-linecap="round"/>
<line x1="187.10" y1="1200.90" x2="163.20" y2="1213.70" stroke="#000" stroke-width="2.00" stroke-linecap="round"/>
<line x1="223.50" y1="1222.50" x2="260.80" y2="1200.90" stroke="#000" stroke-width="2.00" stroke-linecap="round"/>
<line x1="260.80" y1="1200.90" x2="283.90" y2="1213.70" stroke="#000" stroke-width="2.00" stroke-linecap="round"/>
<line x1="223.50" y1="1222.50" x2="187.60" y2="1242.50" stroke="#000" stroke-width="2.00" stroke-linecap="round"/>
<line x1="187.60" y1="1242.50" x2="187.60" y2="1284.90" stroke="#000" stroke-width="2.00" stroke-linecap="round"/>
<line x1="187.60" y1="1284.90" x2="150.30" y2="1305.40" stroke="#000" stroke-width="2.00" stroke-linecap="round"/>
<line x1="146.50" y1="1299.00" x2="179.90" y2="1281.50" stroke="#000" stroke-width="2.00" stroke-linecap="round"/>
<line x1="223.50" y1="1222.50" x2="260.00" y2="1242.50" stroke="#000" stroke-width="2.00" stroke-linecap="round"/>
<line x1="260.00" y1="1242.50" x2="260.00" y2="1284.90" stroke="#000" stroke-width="2.00" stroke-linecap="round"/>
<line x1="260.00" y1="1284.90" x2="298.00" y2="1305.40" stroke="#000" stroke-width="2.00" stroke-linecap="round"/>
<line x1="267.20" y1="1281.00" x2="301.10" y2="1299.00" stroke="#000" stroke-width="2.00" stroke-linecap="round"/>
<line x1="741.00" y1="1222.70" x2="704.30" y2="1201.30" stroke="#000" stroke-width="2.00" stroke-linecap="round"/>
<line x1="704.30" y1="1201.30" x2="680.10" y2="1215.00" stroke="#000" stroke-width="2.00" stroke-linecap="round"/>
<line x1="741.00" y1="1222.70" x2="777.70" y2="1201.30" stroke="#000" stroke-width="2.00" stroke-linecap="round"/>
<line x1="777.70" y1="1201.30" x2="800.90" y2="1214.20" stroke="#000" stroke-width="2.00" stroke-linecap="round"/>
<path d="M741.00 1222.70 L775.20 1245.80 L762.80 1287.70 L719.20 1287.70 L706.30 1245.80 Z" fill="none" stroke="#000" stroke-width="2.00" stroke-linejoin="round" stroke-linecap="round"/>
<line x1="724.30" y1="1280.00" x2="756.40" y2="1280.00" stroke="#000" stroke-width="2.00" stroke-linecap="round"/>
<text x="11.10" y="24.65" font-family='"Liberation Sans", sans-serif' font-weight="bold" font-size="34.73" fill="#000" textLength="16.69" lengthAdjust="spacingAndGlyphs">a</text>
<text x="960.02" y="28.63" font-family='"Liberation Sans", sans-serif' font-weight="bold" font-size="36.69" fill="#000" textLength="22.16" lengthAdjust="spacingAndGlyphs">b</text>
<text x="11.30" y="1205.66" font-family='"Liberation Sans", sans-serif' font-weight="bold" font-size="33.64" fill="#000" textLength="16.69" lengthAdjust="spacingAndGlyphs">c</text>
<text x="167.24" y="30.20" font-family='"Liberation Sans", sans-serif' font-weight="bold" font-size="28.92" fill="#000" textLength="201.05" lengthAdjust="spacingAndGlyphs">HG-Ru-Cl in PBS</text>
<text x="167.20" y="75.60" font-family='"Liberation Sans", sans-serif' font-weight="bold" font-size="28.92" fill="#000" textLength="232.89" lengthAdjust="spacingAndGlyphs">HG-Ru-Cl in Lysate</text>
<text x="596.83" y="31.00" font-family='"Liberation Sans", sans-serif' font-weight="bold" font-size="28.92" fill="#000" textLength="223.56" lengthAdjust="spacingAndGlyphs">Ru-HS-ArM in PBS</text>
<text x="596.80" y="76.00" font-family='"Liberation Sans", sans-serif' font-weight="bold" font-size="28.92" fill="#000" textLength="254.32" lengthAdjust="spacingAndGlyphs">Ru-HS-ArM in Lysate</text>
<text x="1126.51" y="30.70" font-family='"Liberation Sans", sans-serif' font-weight="bold" font-size="28.49" fill="#000" textLength="209.12" lengthAdjust="spacingAndGlyphs">Cu-BTTAA in PBS</text>
<text x="1126.49" y="74.80" font-family='"Liberation Sans", sans-serif' font-weight="bold" font-size="28.49" fill="#000" textLength="239.73" lengthAdjust="spacingAndGlyphs">Cu-BTTAA in Lysate</text>
<text x="1550.79" y="31.10" font-family='"Liberation Sans", sans-serif' font-weight="bold" font-size="28.49" fill="#000" textLength="223.60" lengthAdjust="spacingAndGlyphs">Cu-HS-ArM in PBS</text>
<text x="1550.77" y="75.40" font-family='"Liberation Sans", sans-serif' font-weight="bold" font-size="28.49" fill="#000" textLength="255.16" lengthAdjust="spacingAndGlyphs">Cu-HS-ArM in Lysate</text>
<text x="100.85" y="251.64" font-family='"Liberation Sans", sans-serif' font-weight="bold" font-size="26.20" fill="#000" textLength="46.02" lengthAdjust="spacingAndGlyphs">100</text>
<text x="115.65" y="333.54" font-family='"Liberation Sans", sans-serif' font-weight="bold" font-size="26.20" fill="#000" textLength="31.34" lengthAdjust="spacingAndGlyphs">80</text>
<text x="115.36" y="415.34" font-family='"Liberation Sans", sans-serif' font-weight="bold" font-size="26.20" fill="#000" textLength="31.64" lengthAdjust="spacingAndGlyphs">60</text>
<text x="116.22" y="497.24" font-family='"Liberation Sans", sans-serif' font-weight="bold" font-size="26.20" fill="#000" textLength="30.75" lengthAdjust="spacingAndGlyphs">40</text>
<text x="115.65" y="579.04" font-family='"Liberation Sans", sans-serif' font-weight="bold" font-size="26.20" fill="#000" textLength="31.34" lengthAdjust="spacingAndGlyphs">20</text>
<text x="130.74" y="660.94" font-family='"Liberation Sans", sans-serif' font-weight="bold" font-size="26.20" fill="#000" textLength="16.11" lengthAdjust="spacingAndGlyphs">0</text>
<text x="1059.53" y="257.34" font-family='"Liberation Sans", sans-serif' font-weight="bold" font-size="26.20" fill="#000" textLength="46.34" lengthAdjust="spacingAndGlyphs">100</text>
<text x="1074.65" y="337.44" font-family='"Liberation Sans", sans-serif' font-weight="bold" font-size="26.20" fill="#000" textLength="31.34" lengthAdjust="spacingAndGlyphs">80</text>
<text x="1074.36" y="417.54" font-family='"Liberation Sans", sans-serif' font-weight="bold" font-size="26.20" fill="#000" textLength="31.64" lengthAdjust="spacingAndGlyphs">60</text>
<text x="1075.22" y="497.64" font-family='"Liberation Sans", sans-serif' font-weight="bold" font-size="26.20" fill="#000" textLength="30.75" lengthAdjust="spacingAndGlyphs">40</text>
<text x="1074.65" y="577.74" font-family='"Liberation Sans", sans-serif' font-weight="bold" font-size="26.20" fill="#000" textLength="31.34" lengthAdjust="spacingAndGlyphs">20</text>
<text x="1089.74" y="657.84" font-family='"Liberation Sans", sans-serif' font-weight="bold" font-size="26.20" fill="#000" textLength="16.11" lengthAdjust="spacingAndGlyphs">0</text>
<text x="269.09" y="695.90" font-family='"Liberation Sans", sans-serif' font-weight="bold" font-size="28.49" fill="#000" textLength="36.39" lengthAdjust="spacingAndGlyphs">1 h</text>
<text x="519.84" y="695.90" font-family='"Liberation Sans", sans-serif' font-weight="bold" font-size="28.49" fill="#000" textLength="38.32" lengthAdjust="spacingAndGlyphs">6 h</text>
<text x="763.69" y="695.90" font-family='"Liberation Sans", sans-serif' font-weight="bold" font-size="28.49" fill="#000" textLength="53.75" lengthAdjust="spacingAndGlyphs">24 h</text>
<text x="1230.16" y="695.90" font-family='"Liberation Sans", sans-serif' font-weight="bold" font-size="28.49" fill="#000" textLength="37.04" lengthAdjust="spacingAndGlyphs">1 h</text>
<text x="1480.92" y="695.90" font-family='"Liberation Sans", sans-serif' font-weight="bold" font-size="28.49" fill="#000" textLength="38.85" lengthAdjust="spacingAndGlyphs">6 h</text>
<text x="1725.70" y="695.90" font-family='"Liberation Sans", sans-serif' font-weight="bold" font-size="28.49" fill="#000" textLength="53.64" lengthAdjust="spacingAndGlyphs">24 h</text>
<text transform="rotate(-90)" x="-534.82" y="90.40" font-family='"Liberation Sans", sans-serif' font-weight="bold" font-size="29.51" fill="#000" textLength="175.09" lengthAdjust="spacingAndGlyphs">RCM Yield (%)</text>
<text transform="rotate(-90)" x="-555.24" y="1038.30" font-family='"Liberation Sans", sans-serif' font-weight="bold" font-size="29.80" fill="#000" textLength="205.80" lengthAdjust="spacingAndGlyphs">CuAAC Yield (%)</text>
<text x="192.19" y="394.28" font-family='"Liberation Sans", sans-serif' font-weight="bold" font-size="26.62" fill="#000" textLength="84.68" lengthAdjust="spacingAndGlyphs">0.0020</text>
<text x="218.68" y="371.67" font-family='"DejaVu Sans", "Liberation Sans", sans-serif' font-weight="bold" font-size="20.87" fill="#000" stroke="#000" stroke-width="0.7" stroke-linejoin="round" rotate="30">*</text>
<text x="231.38" y="371.67" font-family='"DejaVu Sans", "Liberation Sans", sans-serif' font-weight="bold" font-size="20.87" fill="#000" stroke="#000" stroke-width="0.7" stroke-linejoin="round" rotate="30">*</text>
<text x="300.29" y="503.83" font-family='"Liberation Sans", sans-serif' font-weight="bold" font-size="26.62" fill="#000" textLength="85.19" lengthAdjust="spacingAndGlyphs">0.0159</text>
<text x="332.87" y="479.50" font-family='"DejaVu Sans", "Liberation Sans", sans-serif' font-weight="bold" font-size="21.30" fill="#000" stroke="#000" stroke-width="0.7" stroke-linejoin="round" rotate="30">*</text>
<text x="448.79" y="280.18" font-family='"Liberation Sans", sans-serif' font-weight="bold" font-size="26.62" fill="#000" textLength="85.19" lengthAdjust="spacingAndGlyphs">0.0009</text>
<text x="467.87" y="255.90" font-family='"DejaVu Sans", "Liberation Sans", sans-serif' font-weight="bold" font-size="21.30" fill="#000" stroke="#000" stroke-width="0.7" stroke-linejoin="round" rotate="30">*</text>
<text x="481.07" y="255.90" font-family='"DejaVu Sans", "Liberation Sans", sans-serif' font-weight="bold" font-size="21.30" fill="#000" stroke="#000" stroke-width="0.7" stroke-linejoin="round" rotate="30">*</text>
<text x="494.27" y="255.90" font-family='"DejaVu Sans", "Liberation Sans", sans-serif' font-weight="bold" font-size="21.30" fill="#000" stroke="#000" stroke-width="0.7" stroke-linejoin="round" rotate="30">*</text>
<text x="524.08" y="201.13" font-family='"Liberation Sans", sans-serif' font-weight="bold" font-size="26.62" fill="#000" textLength="85.39" lengthAdjust="spacingAndGlyphs">0.0039</text>
<text x="550.39" y="177.23" font-family='"DejaVu Sans", "Liberation Sans", sans-serif' font-weight="bold" font-size="20.43" fill="#000" stroke="#000" stroke-width="0.7" stroke-linejoin="round" rotate="30">*</text>
<text x="563.69" y="177.23" font-family='"DejaVu Sans", "Liberation Sans", sans-serif' font-weight="bold" font-size="20.43" fill="#000" stroke="#000" stroke-width="0.7" stroke-linejoin="round" rotate="30">*</text>
<text x="556.68" y="343.28" font-family='"Liberation Sans", sans-serif' font-weight="bold" font-size="26.62" fill="#000" textLength="85.39" lengthAdjust="spacingAndGlyphs">0.0140</text>
<text x="588.52" y="319.14" font-family='"DejaVu Sans", "Liberation Sans", sans-serif' font-weight="bold" font-size="23.04" fill="#000" stroke="#000" stroke-width="0.7" stroke-linejoin="round" rotate="30">*</text>
<text x="702.39" y="256.23" font-family='"Liberation Sans", sans-serif' font-weight="bold" font-size="26.62" fill="#000" textLength="84.98" lengthAdjust="spacingAndGlyphs">0.0002</text>
<text x="722.28" y="232.17" font-family='"DejaVu Sans", "Liberation Sans", sans-serif' font-weight="bold" font-size="20.87" fill="#000" stroke="#000" stroke-width="0.7" stroke-linejoin="round" rotate="30">*</text>
<text x="734.88" y="232.17" font-family='"DejaVu Sans", "Liberation Sans", sans-serif' font-weight="bold" font-size="20.87" fill="#000" stroke="#000" stroke-width="0.7" stroke-linejoin="round" rotate="30">*</text>
<text x="747.48" y="232.17" font-family='"DejaVu Sans", "Liberation Sans", sans-serif' font-weight="bold" font-size="20.87" fill="#000" stroke="#000" stroke-width="0.7" stroke-linejoin="round" rotate="30">*</text>
<text x="780.59" y="179.88" font-family='"Liberation Sans", sans-serif' font-weight="bold" font-size="26.62" fill="#000" textLength="85.11" lengthAdjust="spacingAndGlyphs">0.0185</text>
<text x="807.58" y="156.67" font-family='"DejaVu Sans", "Liberation Sans", sans-serif' font-weight="bold" font-size="20.87" fill="#000" stroke="#000" stroke-width="0.7" stroke-linejoin="round" rotate="30">*</text>
<text x="819.38" y="156.67" font-family='"DejaVu Sans", "Liberation Sans", sans-serif' font-weight="bold" font-size="20.87" fill="#000" stroke="#000" stroke-width="0.7" stroke-linejoin="round" rotate="30">*</text>
<text x="807.58" y="279.73" font-family='"Liberation Sans", sans-serif' font-weight="bold" font-size="26.62" fill="#000" textLength="85.39" lengthAdjust="spacingAndGlyphs">0.0547</text>
<text x="835.76" y="250.94" font-family='"Liberation Sans", sans-serif' font-weight="bold" font-size="25.64" fill="#000" textLength="29.07" lengthAdjust="spacingAndGlyphs">ns</text>
<text x="1154.38" y="247.18" font-family='"Liberation Sans", sans-serif' font-weight="bold" font-size="26.62" fill="#000" textLength="85.29" lengthAdjust="spacingAndGlyphs">0.0009</text>
<text x="1173.97" y="222.60" font-family='"DejaVu Sans", "Liberation Sans", sans-serif' font-weight="bold" font-size="21.30" fill="#000" stroke="#000" stroke-width="0.7" stroke-linejoin="round" rotate="30">*</text>
<text x="1187.12" y="222.60" font-family='"DejaVu Sans", "Liberation Sans", sans-serif' font-weight="bold" font-size="21.30" fill="#000" stroke="#000" stroke-width="0.7" stroke-linejoin="round" rotate="30">*</text>
<text x="1200.27" y="222.60" font-family='"DejaVu Sans", "Liberation Sans", sans-serif' font-weight="bold" font-size="21.30" fill="#000" stroke="#000" stroke-width="0.7" stroke-linejoin="round" rotate="30">*</text>
<text x="1262.79" y="396.38" font-family='"Liberation Sans", sans-serif' font-weight="bold" font-size="26.62" fill="#000" textLength="85.01" lengthAdjust="spacingAndGlyphs">0.2815</text>
<text x="1291.16" y="367.44" font-family='"Liberation Sans", sans-serif' font-weight="bold" font-size="25.64" fill="#000" textLength="29.07" lengthAdjust="spacingAndGlyphs">ns</text>
<text x="1402.00" y="210.08" font-family='"Liberation Sans", sans-serif' font-weight="bold" font-size="26.62" fill="#000" textLength="84.37" lengthAdjust="spacingAndGlyphs">0.0007</text>
<text x="1420.86" y="185.54" font-family='"DejaVu Sans", "Liberation Sans", sans-serif' font-weight="bold" font-size="21.74" fill="#000" stroke="#000" stroke-width="0.7" stroke-linejoin="round" rotate="30">*</text>
<text x="1433.96" y="185.54" font-family='"DejaVu Sans", "Liberation Sans", sans-serif' font-weight="bold" font-size="21.74" fill="#000" stroke="#000" stroke-width="0.7" stroke-linejoin="round" rotate="30">*</text>
<text x="1447.06" y="185.54" font-family='"DejaVu Sans", "Liberation Sans", sans-serif' font-weight="bold" font-size="21.74" fill="#000" stroke="#000" stroke-width="0.7" stroke-linejoin="round" rotate="30">*</text>
<text x="1484.19" y="147.78" font-family='"Liberation Sans", sans-serif' font-weight="bold" font-size="26.62" fill="#000" textLength="85.09" lengthAdjust="spacingAndGlyphs">0.0010</text>
<text x="1504.37" y="123.49" font-family='"DejaVu Sans", "Liberation Sans", sans-serif' font-weight="bold" font-size="21.09" fill="#000" stroke="#000" stroke-width="0.7" stroke-linejoin="round" rotate="30">*</text>
<text x="1516.97" y="123.49" font-family='"DejaVu Sans", "Liberation Sans", sans-serif' font-weight="bold" font-size="21.09" fill="#000" stroke="#000" stroke-width="0.7" stroke-linejoin="round" rotate="30">*</text>
<text x="1529.57" y="123.49" font-family='"DejaVu Sans", "Liberation Sans", sans-serif' font-weight="bold" font-size="21.09" fill="#000" stroke="#000" stroke-width="0.7" stroke-linejoin="round" rotate="30">*</text>
<text x="1511.19" y="241.88" font-family='"Liberation Sans", sans-serif' font-weight="bold" font-size="26.62" fill="#000" textLength="84.98" lengthAdjust="spacingAndGlyphs">0.2446</text>
<text x="1539.51" y="212.49" font-family='"Liberation Sans", sans-serif' font-weight="bold" font-size="25.64" fill="#000" textLength="28.18" lengthAdjust="spacingAndGlyphs">ns</text>
<text x="1660.99" y="211.83" font-family='"Liberation Sans", sans-serif' font-weight="bold" font-size="26.62" fill="#000" textLength="85.09" lengthAdjust="spacingAndGlyphs">0.0029</text>
<text x="1686.68" y="186.97" font-family='"DejaVu Sans", "Liberation Sans", sans-serif' font-weight="bold" font-size="20.87" fill="#000" stroke="#000" stroke-width="0.7" stroke-linejoin="round" rotate="30">*</text>
<text x="1699.38" y="186.97" font-family='"DejaVu Sans", "Liberation Sans", sans-serif' font-weight="bold" font-size="20.87" fill="#000" stroke="#000" stroke-width="0.7" stroke-linejoin="round" rotate="30">*</text>
<text x="1734.80" y="142.28" font-family='"Liberation Sans", sans-serif' font-weight="bold" font-size="26.62" fill="#000" textLength="84.47" lengthAdjust="spacingAndGlyphs">0.0093</text>
<text x="1761.58" y="117.67" font-family='"DejaVu Sans", "Liberation Sans", sans-serif' font-weight="bold" font-size="20.87" fill="#000" stroke="#000" stroke-width="0.7" stroke-linejoin="round" rotate="30">*</text>
<text x="1773.38" y="117.67" font-family='"DejaVu Sans", "Liberation Sans", sans-serif' font-weight="bold" font-size="20.87" fill="#000" stroke="#000" stroke-width="0.7" stroke-linejoin="round" rotate="30">*</text>
<text x="1767.61" y="217.38" font-family='"Liberation Sans", sans-serif' font-weight="bold" font-size="26.62" fill="#000" textLength="82.03" lengthAdjust="spacingAndGlyphs">0.0511</text>
<text x="1795.78" y="187.19" font-family='"Liberation Sans", sans-serif' font-weight="bold" font-size="25.64" fill="#000" textLength="28.74" lengthAdjust="spacingAndGlyphs">ns</text>
<text x="9.69" y="732.80" font-family='"Liberation Sans", sans-serif' font-weight="bold" font-size="32.56" fill="#000" textLength="204.17" lengthAdjust="spacingAndGlyphs">RCM reaction:</text>
<text x="9.94" y="950.70" font-family='"Liberation Sans", sans-serif' font-weight="bold" font-size="32.27" fill="#000" textLength="110.84" lengthAdjust="spacingAndGlyphs">CuAAC:</text>
<text x="251.81" y="900.80" font-family='"Liberation Sans", sans-serif' font-weight="bold" font-size="32.99" fill="#000" textLength="80.61" lengthAdjust="spacingAndGlyphs">HVPA</text>
<text x="677.92" y="900.80" font-family='"Liberation Sans", sans-serif' font-weight="bold" font-size="32.99" fill="#000" textLength="79.03" lengthAdjust="spacingAndGlyphs">HCou</text>
<text x="121.31" y="1137.80" font-family='"Liberation Sans", sans-serif' font-weight="bold" font-size="32.99" fill="#000" textLength="114.90" lengthAdjust="spacingAndGlyphs">AzHCou</text>
<text x="425.11" y="1138.60" font-family='"Liberation Sans", sans-serif' font-weight="bold" font-size="32.99" fill="#000" textLength="65.20" lengthAdjust="spacingAndGlyphs">4-EA</text>
<text x="842.71" y="1137.70" font-family='"Liberation Sans", sans-serif' font-weight="bold" font-size="32.99" fill="#000" textLength="113.87" lengthAdjust="spacingAndGlyphs">TAHCou</text>
<text x="182.00" y="1343.70" font-family='"Liberation Sans", sans-serif' font-weight="bold" font-size="32.99" fill="#000" textLength="81.05" lengthAdjust="spacingAndGlyphs">DAPB</text>
<text x="661.85" y="1343.60" font-family='"Liberation Sans", sans-serif' font-weight="bold" font-size="32.99" fill="#000" textLength="159.42" lengthAdjust="spacingAndGlyphs">DAPB-RCM</text>
<text x="484.58" y="775.70" font-family='"Liberation Sans", sans-serif' font-weight="bold" font-size="28.49" fill="#000" textLength="48.87" lengthAdjust="spacingAndGlyphs">[Ru]</text>
<text x="450.76" y="1240.70" font-family='"Liberation Sans", sans-serif' font-weight="bold" font-size="28.49" fill="#000" textLength="49.71" lengthAdjust="spacingAndGlyphs">[Ru]</text>
<text x="596.86" y="1010.70" font-family='"Liberation Sans", sans-serif' font-weight="bold" font-size="28.49" fill="#000" textLength="49.50" lengthAdjust="spacingAndGlyphs">[Cu]</text>
<text x="145.49" y="859.56" font-family='"Liberation Sans", sans-serif' font-weight="normal" font-size="24.23" fill="#000" textLength="37.77" lengthAdjust="spacingAndGlyphs">HO</text>
<text x="315.74" y="862.57" font-family='"Liberation Sans", sans-serif' font-weight="normal" font-size="22.54" fill="#000" textLength="19.68" lengthAdjust="spacingAndGlyphs">O</text>
<text x="393.98" y="863.17" font-family='"Liberation Sans", sans-serif' font-weight="normal" font-size="22.82" fill="#000" textLength="18.99" lengthAdjust="spacingAndGlyphs">O</text>
<text x="20.20" y="991.26" font-family='"Liberation Sans", sans-serif' font-weight="normal" font-size="24.08" fill="#000" textLength="37.55" lengthAdjust="spacingAndGlyphs">HO</text>
<text x="195.07" y="995.87" font-family='"Liberation Sans", sans-serif' font-weight="normal" font-size="22.68" fill="#000" textLength="19.11" lengthAdjust="spacingAndGlyphs">O</text>
<text x="272.77" y="995.87" font-family='"Liberation Sans", sans-serif' font-weight="normal" font-size="22.68" fill="#000" textLength="19.11" lengthAdjust="spacingAndGlyphs">O</text>
<text x="269.31" y="1081.30" font-family='"Liberation Sans", sans-serif' font-weight="normal" font-size="22.75" fill="#000" textLength="17.93" lengthAdjust="spacingAndGlyphs">N</text>
<text x="287.14" y="1088.52" font-family='"Liberation Sans", sans-serif' font-weight="normal" font-size="18.31" fill="#000" textLength="11.95" lengthAdjust="spacingAndGlyphs">3</text>
<text x="525.85" y="1092.26" font-family='"Liberation Sans", sans-serif' font-weight="normal" font-size="23.94" fill="#000" textLength="17.85" lengthAdjust="spacingAndGlyphs">O</text>
<text x="105.81" y="1228.16" font-family='"Liberation Sans", sans-serif' font-weight="normal" font-size="24.23" fill="#000" textLength="50.76" lengthAdjust="spacingAndGlyphs">BzO</text>
<text x="287.03" y="1228.16" font-family='"Liberation Sans", sans-serif' font-weight="normal" font-size="24.23" fill="#000" textLength="49.41" lengthAdjust="spacingAndGlyphs">OBz</text>
<text x="628.52" y="1228.85" font-family='"Liberation Sans", sans-serif' font-weight="normal" font-size="25.35" fill="#000" textLength="48.09" lengthAdjust="spacingAndGlyphs">BzO</text>
<text x="803.93" y="1228.85" font-family='"Liberation Sans", sans-serif' font-weight="normal" font-size="25.35" fill="#000" textLength="49.51" lengthAdjust="spacingAndGlyphs">OBz</text>
<text x="1368.84" y="826.54" font-family='"Liberation Sans", sans-serif' font-weight="bold" font-size="26.34" fill="#000" textLength="16.11" lengthAdjust="spacingAndGlyphs">0</text>
<text x="1752.96" y="883.34" font-family='"Liberation Sans", sans-serif' font-weight="bold" font-size="25.92" fill="#000" textLength="53.04" lengthAdjust="spacingAndGlyphs">31.9</text>
<text x="1410.67" y="979.15" font-family='"Liberation Sans", sans-serif' font-weight="bold" font-size="25.07" fill="#000" textLength="36.93" lengthAdjust="spacingAndGlyphs">3.5</text>
<text x="1540.58" y="1033.85" font-family='"Liberation Sans", sans-serif' font-weight="bold" font-size="25.07" fill="#000" textLength="52.50" lengthAdjust="spacingAndGlyphs">13.9</text>
<text x="1556.79" y="1129.15" font-family='"Liberation Sans", sans-serif' font-weight="bold" font-size="25.49" fill="#000" textLength="52.29" lengthAdjust="spacingAndGlyphs">16.0</text>
<text x="1572.49" y="1186.05" font-family='"Liberation Sans", sans-serif' font-weight="bold" font-size="25.49" fill="#000" textLength="52.29" lengthAdjust="spacingAndGlyphs">17.3</text>
<text x="1204.55" y="856.30" font-family='"Liberation Sans", sans-serif' font-weight="bold" font-size="28.63" fill="#000" textLength="112.48" lengthAdjust="spacingAndGlyphs">HG-Ru-Cl</text>
<text x="1175.55" y="992.50" font-family='"Liberation Sans", sans-serif' font-weight="bold" font-size="27.33" fill="#000" textLength="140.60" lengthAdjust="spacingAndGlyphs">Ru-HS-ArM</text>
<text x="1174.34" y="1028.20" font-family='"Liberation Sans", sans-serif' font-weight="bold" font-size="27.47" fill="#000" textLength="143.13" lengthAdjust="spacingAndGlyphs">+ Excess HS</text>
<text x="1181.66" y="1120.80" font-family='"Liberation Sans", sans-serif' font-weight="bold" font-size="27.18" fill="#000" textLength="140.19" lengthAdjust="spacingAndGlyphs">Ru-HS-ArM</text>
<text x="1179.64" y="1155.40" font-family='"Liberation Sans", sans-serif' font-weight="bold" font-size="27.62" fill="#000" textLength="143.54" lengthAdjust="spacingAndGlyphs">+ Excess HS</text>
<text x="1194.07" y="1190.90" font-family='"Liberation Sans", sans-serif' font-weight="bold" font-size="28.63" fill="#000" textLength="104.38" lengthAdjust="spacingAndGlyphs">+ TTA-Cl</text>
<text x="1299.59" y="1200.75" font-family='"Liberation Sans", sans-serif' font-weight="bold" font-size="15.21" fill="#000" textLength="8.57" lengthAdjust="spacingAndGlyphs">3</text>
<text x="1737.09" y="982.60" font-family='"Liberation Sans", sans-serif' font-weight="bold" font-size="27.76" fill="#000" textLength="70.07" lengthAdjust="spacingAndGlyphs">GSH -</text>
<text x="1737.77" y="1032.00" font-family='"Liberation Sans", sans-serif' font-weight="bold" font-size="27.47" fill="#000" textLength="78.24" lengthAdjust="spacingAndGlyphs">GSH +</text>
<text x="1738.17" y="1067.00" font-family='"Liberation Sans", sans-serif' font-weight="bold" font-size="27.76" fill="#000" textLength="189.80" lengthAdjust="spacingAndGlyphs">(5 equiv. to Ru)</text>
<text x="1340.07" y="1257.54" font-family='"Liberation Sans", sans-serif' font-weight="bold" font-size="25.92" fill="#000" textLength="15.76" lengthAdjust="spacingAndGlyphs">0</text>
<text x="1440.61" y="1257.54" font-family='"Liberation Sans", sans-serif' font-weight="bold" font-size="25.92" fill="#000" textLength="32.27" lengthAdjust="spacingAndGlyphs">10</text>
<text x="1551.20" y="1257.54" font-family='"Liberation Sans", sans-serif' font-weight="bold" font-size="25.92" fill="#000" textLength="31.34" lengthAdjust="spacingAndGlyphs">20</text>
<text x="1661.29" y="1257.54" font-family='"Liberation Sans", sans-serif' font-weight="bold" font-size="25.92" fill="#000" textLength="31.04" lengthAdjust="spacingAndGlyphs">30</text>
<text x="1771.27" y="1257.54" font-family='"Liberation Sans", sans-serif' font-weight="bold" font-size="25.92" fill="#000" textLength="30.75" lengthAdjust="spacingAndGlyphs">40</text>
<text x="1441.63" y="1312.60" font-family='"Liberation Sans", sans-serif' font-weight="bold" font-size="27.76" fill="#000" textLength="225.95" lengthAdjust="spacingAndGlyphs">24 h TON by HPLC</text>
<text x="310.82" y="1039.60" font-family='"Liberation Sans", sans-serif' font-weight="normal" font-size="37.76" fill="#000" textLength="20.74" lengthAdjust="spacingAndGlyphs" stroke="#000" stroke-width="0.70" stroke-linejoin="round">+</text>
</svg></body></html>
